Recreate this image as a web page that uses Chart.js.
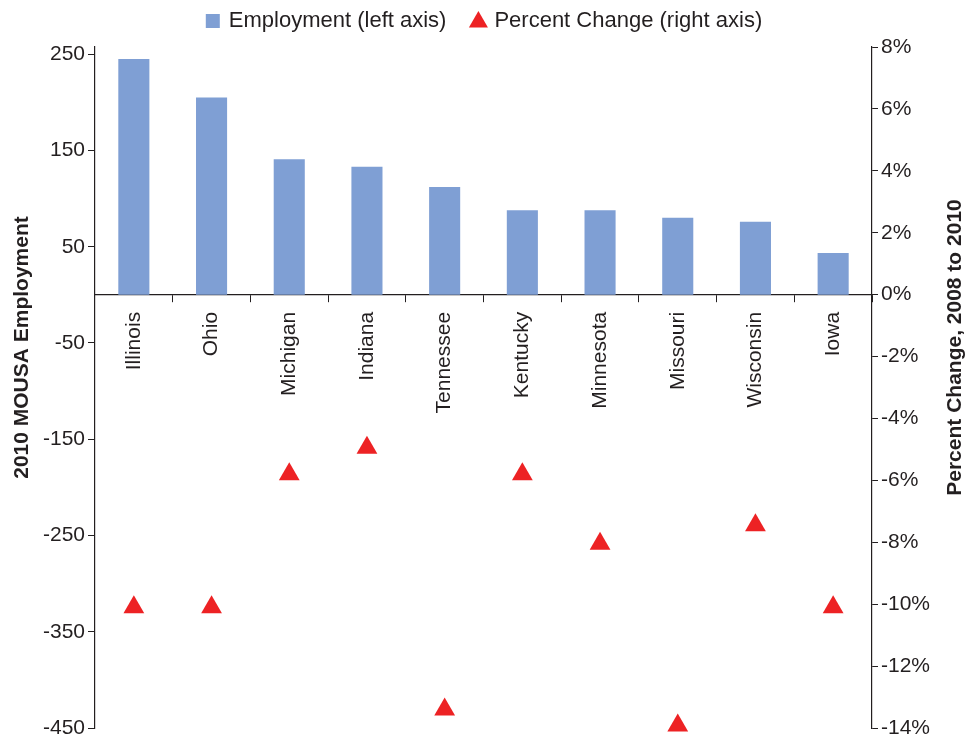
<!DOCTYPE html>
<html>
<head>
<meta charset="utf-8">
<title>2010 MOUSA Employment</title>
<script src="https://cdn.jsdelivr.net/npm/chart.js@4/dist/chart.umd.min.js"></script>
<style>
    html, body { margin: 0; padding: 0; background: #fff; }
    #wrap { width: 974px; height: 736px; }
</style>
</head>
<body>
<div id="wrap"><canvas id="chart" width="974" height="736"></canvas></div>
<script>
// values
const states = ['Illinois', 'Ohio', 'Michigan', 'Indiana', 'Tennessee', 'Kentucky', 'Minnesota', 'Missouri', 'Wisconsin', 'Iowa'];
const employment = [245, 205, 141, 133, 112, 88, 88, 80, 76, 43.5];
const pctChange = [-10.1, -10.1, -5.8, -4.95, -13.4, -5.8, -8.05, -13.92, -7.45, -10.1];
const leftTicks = [-450, -350, -250, -150, -50, 50, 150, 250];

const INK = '#231f20';
const BLUE = '#7f9fd4';
const RED = '#ed2224';
const FONT = "'Liberation Sans', Arial, Helvetica, sans-serif";

Chart.defaults.font.family = FONT;
Chart.defaults.color = INK;

// legend row on top: square for the bars, triangle for the points
const topLegend = {
    id: 'topLegend',
    afterDraw(chart) {
        const ctx = chart.ctx;
        const items = chart.data.datasets.slice().reverse();
        ctx.save();
        ctx.font = '22px ' + FONT;
        ctx.textBaseline = 'middle';
        ctx.textAlign = 'left';
        const box = 14, gapText = 9, gapItem = 25;
        const widths = items.map(ds => box + gapText + ctx.measureText(ds.label).width);
        const total = widths.reduce((a, b) => a + b, 0) + gapItem * (items.length - 1);
        let x = chart.width / 2 - 3 - total / 2;
        const y = 21;
        items.forEach((ds, i) => {
            if (ds.type === 'bar') {
                ctx.fillStyle = ds.backgroundColor;
                ctx.fillRect(x, y - box / 2, box, box);
            } else {
                ctx.fillStyle = ds.pointBackgroundColor;
                Chart.helpers.drawPoint(ctx, { pointStyle: 'triangle', radius: 11, borderWidth: 0 }, x + box / 2, y + 1);
            }
            ctx.fillStyle = INK;
            ctx.fillText(ds.label, x + box + gapText, y);
            x += widths[i] + gapItem;
        });
        ctx.restore();
    }
};

// axis titles drawn by hand: the right one reads bottom-to-top like the original
const axisTitles = {
    id: 'axisTitles',
    afterDraw(chart) {
        const { ctx, chartArea } = chart;
        const midY = (chartArea.top + chartArea.bottom) / 2 - 40;
        ctx.save();
        ctx.fillStyle = INK;
        ctx.font = 'bold 21px ' + FONT;
        ctx.textAlign = 'center';
        ctx.textBaseline = 'middle';
        ctx.translate(22, midY);
        ctx.rotate(-Math.PI / 2);
        ctx.fillText('2010 MOUSA Employment', 0, 0);
        ctx.restore();

        ctx.save();
        ctx.fillStyle = INK;
        ctx.font = 'bold 21px ' + FONT;
        ctx.textAlign = 'center';
        ctx.textBaseline = 'middle';
        ctx.translate(chart.width - 19, midY);
        ctx.rotate(-Math.PI / 2);
        ctx.fillText('Percent Change, 2008 to 2010', 0, 0);
        ctx.restore();
    }
};

const noPadding = (scale) => {
    scale.paddingTop = 0;
    scale.paddingBottom = 0;
};

new Chart(document.getElementById('chart'), {
    data: {
        labels: states,
        datasets: [
            {
                type: 'line',
                label: 'Percent Change (right axis)',
                data: pctChange,
                yAxisID: 'y1',
                showLine: false,
                pointStyle: 'triangle',
                pointRadius: 12,
                pointHoverRadius: 12,
                pointBorderWidth: 0,
                pointBackgroundColor: RED,
                borderColor: RED,
                backgroundColor: RED,
                clip: false,
                order: 0
            },
            {
                type: 'bar',
                label: 'Employment (left axis)',
                data: employment,
                yAxisID: 'y',
                backgroundColor: BLUE,
                borderWidth: 0,
                categoryPercentage: 0.8,
                barPercentage: 0.5,
                order: 1
            }
        ]
    },
    options: {
        responsive: false,
        animation: false,
        // big triangle markers would otherwise pull the plot edges inwards
        layout: { autoPadding: false, padding: { top: 47, bottom: 8, left: 0, right: 0 } },
        plugins: {
            tooltip: { enabled: false },
            legend: { display: false }
        },
        scales: {
            x: {
                position: { y: 0 },
                afterFit: noPadding,
                grid: { offset: true, drawOnChartArea: false, drawTicks: true, tickLength: 7, color: INK, lineWidth: 1 },
                border: { display: true, color: INK, width: 1.2 },
                ticks: { color: INK, font: { size: 21 }, minRotation: 90, maxRotation: 90, autoSkip: false, padding: 10 }
            },
            y: {
                position: 'left',
                min: -450,
                max: 257.5,
                afterBuildTicks: (scale) => { scale.ticks = leftTicks.map(v => ({ value: v })); },
                afterFit: (scale) => { scale.width = 95; noPadding(scale); },
                grid: { drawOnChartArea: false, drawTicks: true, tickLength: 7, color: INK },
                border: { display: true, color: INK, width: 1.2 },
                ticks: { color: INK, font: { size: 21, lineHeight: 0.4 }, padding: 3 }
            },
            y1: {
                position: 'right',
                min: -14,
                max: 8,
                afterFit: (scale) => { scale.width = 102; noPadding(scale); },
                grid: { drawOnChartArea: false, drawTicks: true, tickLength: 6, color: INK },
                border: { display: true, color: INK, width: 1.2 },
                ticks: { color: INK, font: { size: 21, lineHeight: 0.4 }, padding: 3, stepSize: 2, callback: (v) => v + '%' }
            }
        }
    },
    plugins: [topLegend, axisTitles]
});
</script>
</body>
</html>
